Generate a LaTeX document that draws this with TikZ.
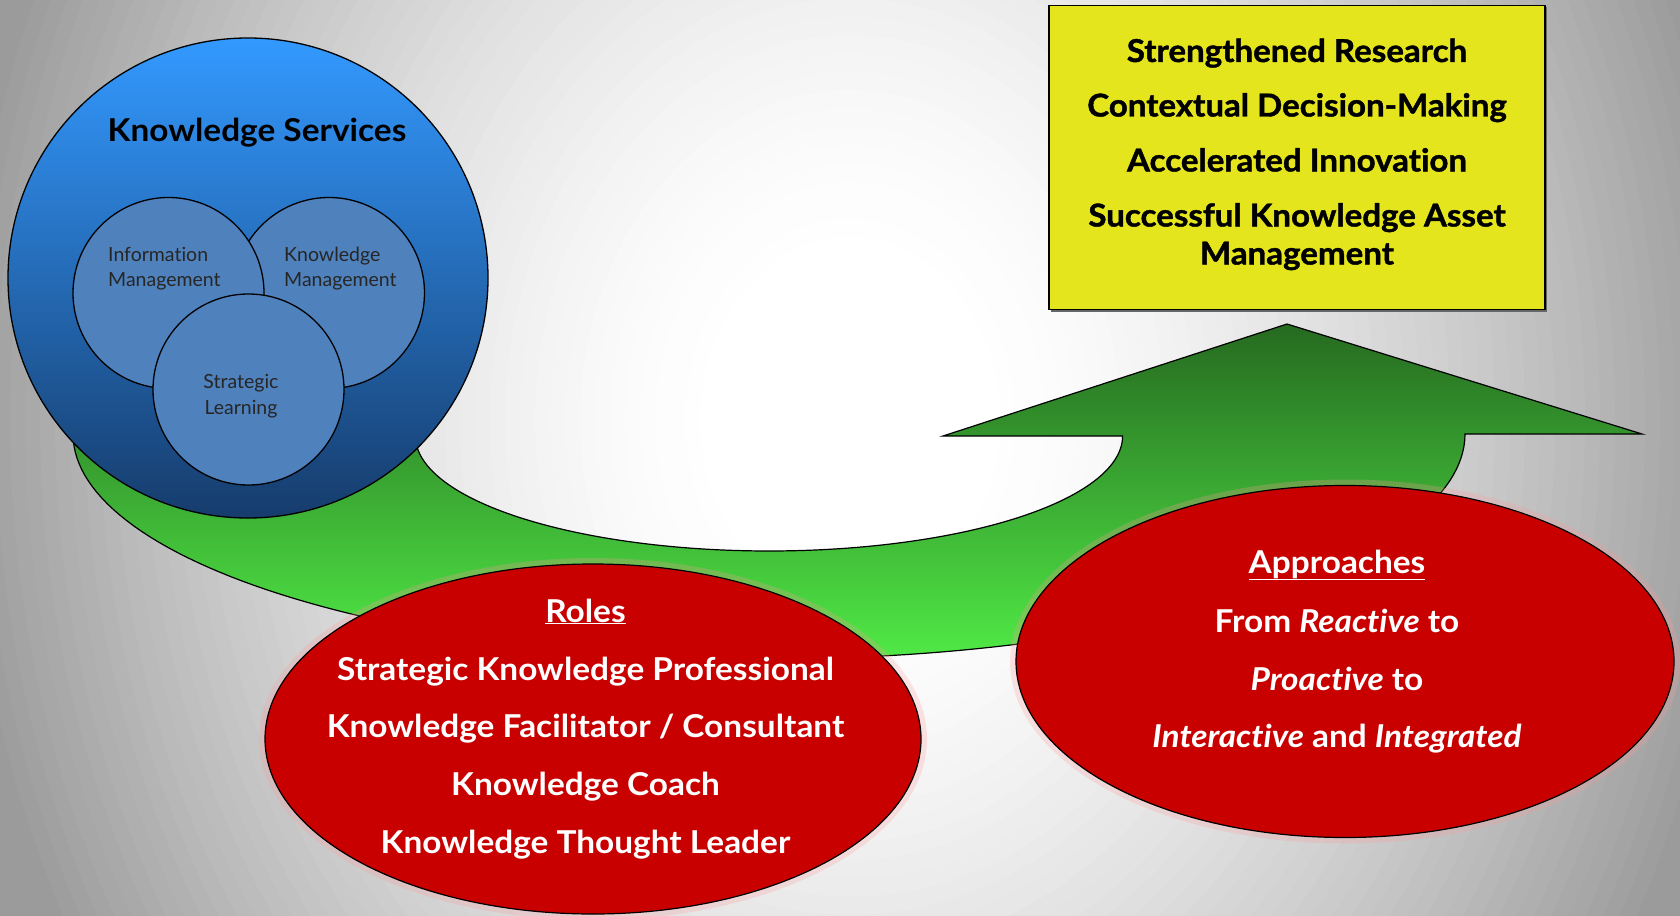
\documentclass[tikz,border=0pt]{standalone}
\usepackage{fontspec}
\setmainfont[Ligatures=NoCommon]{Lato}
\newfontfamily\bigfont[FakeStretch=1.06, Ligatures=NoCommon]{Lato}
\newfontfamily\yfont[FakeStretch=1.05, Ligatures=NoCommon, BoldFeatures={FakeBold=1.3}]{Lato}
\usetikzlibrary{shapes.geometric}
\definecolor{bggray}{RGB}{155,155,155}
\definecolor{ksTop}{RGB}{51,153,255}
\definecolor{ksMid}{RGB}{40,118,202}
\definecolor{ksBot}{RGB}{22,60,108}
\definecolor{innerBlue}{RGB}{79,129,189}
\definecolor{ybox}{RGB}{229,229,30}
\definecolor{redfill}{RGB}{200,0,0}
\definecolor{grTop}{RGB}{38,106,32}
\definecolor{grBot}{RGB}{80,234,70}
\begin{document}
\begin{tikzpicture}[x=1pt,y=-1pt,
  kscircle/.style={circle, draw=black, line width=1.3pt, inner sep=0pt, minimum size=480pt,
     top color=ksTop, middle color=ksMid, bottom color=ksBot},
  subcircle/.style={circle, draw=black, line width=1.3pt, inner sep=0pt, minimum size=191pt, fill=innerBlue},
  smalltxt/.style={font=\fontsize{19.5}{25.5}\selectfont, text=black!85, inner sep=0pt},
  bigtxt/.style={font=\bigfont\fontsize{31.5}{36}\selectfont\bfseries, inner sep=0pt, anchor=base},
  redell/.style={ellipse, draw=black, line width=1.2pt, fill=redfill, inner sep=0pt},
  whitetxt/.style={bigtxt, text=white},
  blacktxt/.style={bigtxt, font=\yfont\fontsize{31.5}{36}\selectfont\bfseries, text=black}
]
\useasboundingbox (0,0) rectangle (1680,915);
% background: stepped radial gradient
\begin{scope}
\clip (0,0) rectangle (1680,915);
\fill[bggray] (0,0) rectangle (1680,915);
\foreach \k in {70,...,1}{
  \pgfmathsetmacro\dd{\k/60}
  \pgfmathsetmacro\gg{1-(100/255)*(min(1,max(0,(\dd-0.15)/0.85)))^1.5}
  \definecolor{bgc}{gray}{\gg}
  \fill[bgc] (850,420) ellipse [x radius={900*\dd}, y radius={1100*\dd}];
}
\end{scope}

% green curved arrow
\shade[top color=grTop, bottom color=grBot, draw=black, line width=1.2pt]
  plot[domain=180:360, samples=120, variable=\t] ({769+696*cos(\t)}, {434-225*sin(\t)})
  -- (1642,434) -- (1287,324) -- (943,436) -- (1122.6,436)
  -- plot[domain=360:180, samples=120, variable=\t] ({769+353.6*cos(\t)}, {436-115*sin(\t)})
  -- cycle;

% knowledge services circle
\node[kscircle] (ks) at (248,278) {};
\node[subcircle] (km) at (329,293) {};
\node[subcircle] (im) at (168.5,293) {};
\node[subcircle] (sl) at (248.5,389.5) {};
\node[bigtxt, text=black] (kst) at (257,142) {Knowledge Services};
\node[smalltxt, anchor=base west] (imt1) at (108,261) {Information};
\node[smalltxt, anchor=base west] (imt2) at (108,286) {Management};
\node[smalltxt, anchor=base west] (kmt1) at (284,261) {Knowledge};
\node[smalltxt, anchor=base west] (kmt2) at (284,286) {Management};
\node[smalltxt, anchor=base] (slt1) at (241,388.5) {Strategic};
\node[smalltxt, anchor=base] (slt2) at (241,414) {Learning};

% yellow outcomes box
\fill[black!60] (1051,7.5) rectangle (1547,311.5);
\node[draw=black, line width=1.6pt, fill=ybox, minimum width=496pt, minimum height=304pt, inner sep=0pt] (yb) at (1297,157.5) {};
\node[blacktxt] (y1) at (1297,62) {Strengthened Research};
\node[blacktxt] (y2) at (1297,116.5) {Contextual Decision-Making};
\node[blacktxt] (y3) at (1297,171.5) {Accelerated Innovation};
\node[blacktxt] (y4) at (1297,226.5) {Successful Knowledge Asset};
\node[blacktxt] (y5) at (1297,264.5) {Management};

% red ellipses with soft glow
\fill[red!40, opacity=0.25] (593,739) ellipse [x radius=334, y radius=181];
\fill[red!40, opacity=0.25] (1345,661.5) ellipse [x radius=335, y radius=182];
\node[redell, minimum width=656pt, minimum height=350pt] (roles) at (593,739) {};
\node[redell, minimum width=658pt, minimum height=352pt] (appr) at (1345,661.5) {};

\node[whitetxt] (r0) at (585.5,622) {\underline{Roles}};
\node[whitetxt] (r1) at (585.5,680) {Strategic Knowledge Professional};
\node[whitetxt] (r2) at (585.5,737.5) {Knowledge Facilitator / Consultant};
\node[whitetxt] (r3) at (585.5,795) {Knowledge Coach};
\node[whitetxt] (r4) at (585.5,853) {Knowledge Thought Leader};

\node[whitetxt] (a0) at (1337,573) {\underline{Approaches}};
\node[whitetxt] (a1) at (1337,632) {From \textit{Reactive} to};
\node[whitetxt] (a2) at (1337,690) {\textit{Proactive} to};
\node[whitetxt] (a3) at (1337,747.5) {\textit{Interactive} and \textit{Integrated}};
\end{tikzpicture}
\end{document}
